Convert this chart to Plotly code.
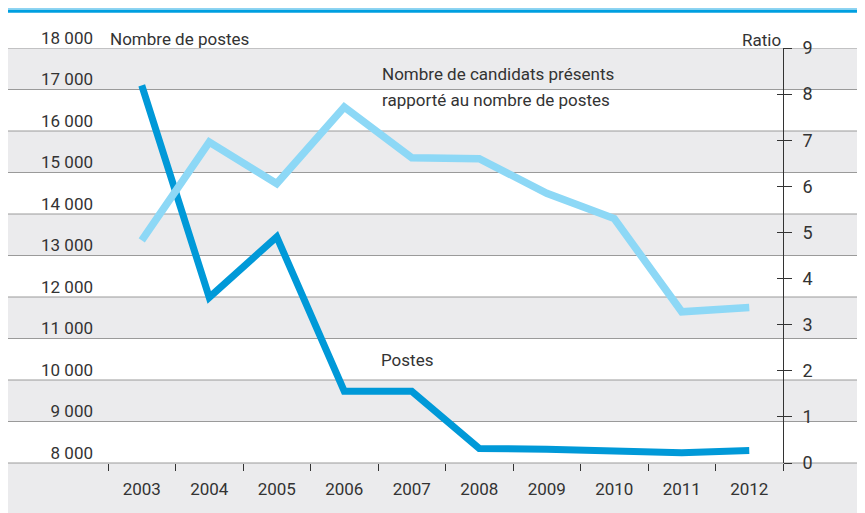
import plotly.graph_objects as go

years = ["2003", "2004", "2005", "2006", "2007", "2008", "2009", "2010", "2011", "2012"]
postes = [17100, 11990, 13450, 9730, 9730, 8350, 8330, 8300, 8250, 8300]
ratio = [4.83, 6.96, 6.06, 7.72, 6.62, 6.60, 5.85, 5.30, 3.28, 3.37]

left_ticks = list(range(8000, 18001, 1000))
right_ticks = list(range(0, 10))

FONT = "Roboto, DejaVu Sans Condensed, sans-serif"
TXT = "#333333"
DARK = "#0099D8"
LIGHT = "#8DD8F6"
BAND = "#EBEBED"
GRID = "#9A9A9A"

fig = go.Figure()

fig.add_trace(go.Scatter(x=years, y=ratio, yaxis="y2", mode="lines",
                         line=dict(color=LIGHT, width=7.5), cliponaxis=False,
                         hoverinfo="skip"))
fig.add_trace(go.Scatter(x=years, y=postes, mode="lines",
                         line=dict(color=DARK, width=7), cliponaxis=False,
                         hoverinfo="skip"))
# trace fantôme pour activer yaxis3 (petits traits vers l'intérieur)
fig.add_trace(go.Scatter(x=[years[0]], y=[None], yaxis="y3", showlegend=False,
                         hoverinfo="skip"))

# bandes grises et lignes de grille sur toute la largeur
x0, x1 = -0.149, 1.125
shapes = []
for lo, hi in zip(left_ticks[:-1], left_ticks[1:]):
    if (lo // 1000) % 2 == 1:
        shapes.append(dict(type="rect", xref="paper", yref="y", x0=x0, x1=x1,
                           y0=lo, y1=hi, fillcolor=BAND, line_width=0, layer="below"))
shapes.append(dict(type="rect", xref="paper", yref="paper", x0=x0, x1=x1,
                   y0=-0.15, y1=0, fillcolor=BAND, line_width=0, layer="below"))
for v in left_ticks[1:]:
    shapes.append(dict(type="line", xref="paper", yref="y", x0=x0, x1=x1,
                       y0=v, y1=v, line=dict(color=GRID, width=1), layer="below"))
shapes.append(dict(type="line", xref="paper", yref="paper", x0=x0, x1=x1,
                   y0=0, y1=0, line=dict(color=GRID, width=1), layer="below"))
# bandeau bleu en haut
shapes.append(dict(type="rect", xref="paper", yref="paper", x0=x0, x1=x1,
                   y0=1.0851, y1=1.0928, fillcolor="#009FE0", line_width=0))
shapes.append(dict(type="rect", xref="paper", yref="paper", x0=x0, x1=x1,
                   y0=1.0928, y1=1.0964, fillcolor="#8ED4F2", line_width=0))

annotations = [
    dict(text="Nombre de postes", xref="paper", yref="paper", x=0, y=1.0 + 9 / 415,
         xanchor="left", yanchor="middle", showarrow=False),
    dict(text="Ratio", xref="paper", yref="paper", x=1.0, y=1.0 + 8 / 415,
         xanchor="right", yanchor="middle", showarrow=False),
    dict(text="Nombre de candidats présents", xref="x", yref="y2", x=3.53, y=8.43,
         xanchor="left", yanchor="middle", showarrow=False),
    dict(text="rapporté au nombre de postes", xref="x", yref="y2", x=3.53, y=7.87,
         xanchor="left", yanchor="middle", showarrow=False),
    dict(text="Postes", xref="x", yref="y", x=3.52, y=10480, xanchor="left",
         yanchor="middle", showarrow=False),
]

fig.update_layout(
    width=865, height=513,
    margin=dict(l=100, r=90, t=40, b=58),
    paper_bgcolor="white", plot_bgcolor="rgba(0,0,0,0)",
    separators=", ",
    showlegend=False,
    font=dict(family=FONT, size=17, color=TXT),
    shapes=shapes,
    annotations=annotations,
    xaxis=dict(type="category", tickson="boundaries", ticks="outside", ticklen=7,
               tickcolor=TXT, tickwidth=1, showgrid=False, showline=False,
               zeroline=False, range=[-0.5, 9.5], ticklabelstandoff=14,
               automargin=False),
    yaxis=dict(range=[8000, 18000], tickvals=left_ticks, tickformat=",d",
               showgrid=False, zeroline=False, ticks="", ticklabelstandoff=14,
               ticklabelshift=-10, automargin=False),
    yaxis2=dict(range=[0, 9], tickvals=right_ticks, overlaying="y", side="right",
                ticks="outside", ticklen=8, tickcolor=TXT, showline=True,
                linecolor=TXT, linewidth=1, showgrid=False, zeroline=False,
                automargin=False, tickfont=dict(size=18), ticklabelstandoff=7),
    yaxis3=dict(range=[0, 9], tickvals=right_ticks, overlaying="y", side="right",
                ticks="inside", ticklen=6, tickcolor=TXT, showticklabels=False,
                showgrid=False, zeroline=False, automargin=False),
)

fig.write_html("out.html")
